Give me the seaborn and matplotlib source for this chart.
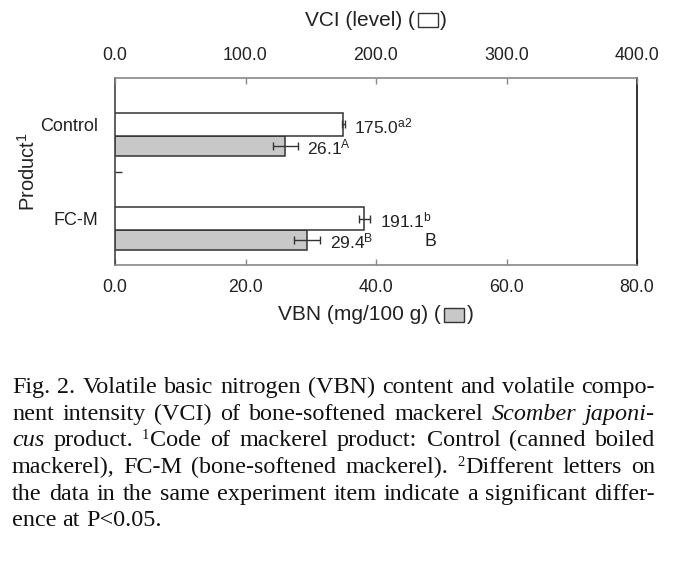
import pandas as pd
import matplotlib
matplotlib.use("Agg")
import matplotlib.pyplot as plt
import seaborn as sns
from matplotlib.font_manager import FontProperties
from matplotlib.offsetbox import TextArea, DrawingArea, HPacker, AnnotationBbox
from matplotlib.patches import Rectangle

# data
products = ["Control", "FC-M"]
vci_mean = [175.0, 191.1]
vci_err = [1.0, 4.2]
vci_letters = ["a2", "b"]
vbn_mean = [26.1, 29.4]
vbn_err = [1.9, 2.0]
vbn_letters = ["A", "B"]
vbn_ticks = [0, 20, 40, 60, 80]
vci_ticks = [0, 100, 200, 300, 400]
stray_letter = "B"      # loose letter printed right of the FC-M bars
stray_letter_x = 48.3   # VBN units

caption_lines = [
    "Fig. 2. Volatile basic nitrogen (VBN) content and volatile compo-",
    "nent intensity (VCI) of bone-softened mackerel Scomber japoni-",
    "cus product. \u00b9Code of mackerel product: Control (canned boiled",
    "mackerel), FC-M (bone-softened mackerel). \u00b2Different letters on",
    "the data in the same experiment item indicate a significant differ-",
    "ence at P<0.05.",
]
italic_words = {"Scomber", "japoni-", "cus"}
sup_chars = {"\u00b9": "1", "\u00b2": "2"}

sns.set_style("white")
plt.rcParams["font.family"] = ["Liberation Sans", "DejaVu Sans"]
plt.rcParams["mathtext.fontset"] = "custom"
plt.rcParams["mathtext.rm"] = "Liberation Sans"
plt.rcParams["mathtext.it"] = "Liberation Sans:italic"

W, H = 676, 570
fig = plt.figure(figsize=(W / 100, H / 100), dpi=100)
ax = fig.add_axes([115 / W, 1 - 265 / H, 522 / W, 187 / H])
ax2 = ax.twiny()

text_c = "#222222"
edge_c = "#333333"
palette = {"VCI": "white", "VBN": "#c8c8c8"}
hue_order = ["VCI", "VBN"]

vbn_df = pd.DataFrame({"product": products, "value": vbn_mean, "measure": "VBN"})
vci_df = pd.DataFrame({"product": products, "value": vci_mean, "measure": "VCI"})

sns.barplot(data=vbn_df, x="value", y="product", hue="measure", hue_order=hue_order,
            palette=palette, width=0.42, dodge=True, errorbar=None,
            edgecolor=edge_c, linewidth=1.1, legend=False, ax=ax)
sns.barplot(data=vci_df, x="value", y="product", hue="measure", hue_order=hue_order,
            palette=palette, width=0.49, dodge=True, errorbar=None,
            edgecolor=edge_c, linewidth=1.1, legend=False, ax=ax2)

ax.set_xlim(0, 80)
ax2.set_xlim(0, 400)
ax.set_ylim(1.372, -0.617)

def bar_centers(a):
    ps = sorted(a.patches, key=lambda p: p.get_y())
    return [p.get_y() + p.get_height() / 2 for p in ps]

vbn_y = bar_centers(ax)
vci_y = bar_centers(ax2)

# error bars and value labels
for a, means, errs, letters, ys in [(ax, vbn_mean, vbn_err, vbn_letters, vbn_y),
                                    (ax2, vci_mean, vci_err, vci_letters, vci_y)]:
    a.errorbar(means, ys, xerr=errs, fmt="none", ecolor=edge_c, elinewidth=1,
               capsize=3, capthick=1)
    for m, e, lab, y in zip(means, errs, letters, ys):
        a.annotate(f"{m:.1f}$^{{\\mathrm{{{lab}}}}}$", xy=(m + e, y), xytext=(7, 0),
                   textcoords="offset points", va="center_baseline", ha="left",
                   fontsize=12.5, color=text_c)

ax.text(stray_letter_x, vbn_y[-1], stray_letter, ha="center", va="center_baseline",
        fontsize=12.8, color=text_c)

# axes, ticks
ax.set_xlabel("")
ax.set_ylabel("")
ax2.set_xlabel("")
ax2.set_ylabel("")
ax.set_xticks(vbn_ticks, labels=[f"{t:.1f}" for t in vbn_ticks])
ax2.set_xticks(vci_ticks, labels=[f"{t:.1f}" for t in vci_ticks])
ax.set_yticks(vci_y, labels=products)
ymid = sum(ax.get_ylim()) / 2
ax.set_yticks([ymid], minor=True)

ax.tick_params(axis="x", bottom=True, top=False)
ax2.tick_params(axis="x", top=True, bottom=False)
for a in (ax, ax2):
    a.tick_params(axis="x", direction="in", length=4, width=1, color="#888888",
                  pad=10, labelsize=12.8, labelcolor=text_c)
ax.tick_params(axis="y", which="major", left=True, length=0, pad=12, labelsize=13,
               labelcolor=text_c)
ax.tick_params(axis="y", which="minor", left=True, direction="in", length=5,
               width=1, color=edge_c)

for s in ["left", "right", "bottom"]:
    ax2.spines[s].set_visible(False)
ax.spines["top"].set_visible(False)
ax2.spines["top"].set_color("#888888")
ax.spines["bottom"].set_color("#888888")
ax.spines["left"].set_color("#444444")
ax.spines["right"].set_color("#111111")
for sp in list(ax.spines.values()) + [ax2.spines["top"]]:
    sp.set_linewidth(1.2)

# axis titles with the little fill swatch
def axis_title(label, fill, y_px):
    tp = dict(fontsize=15, color=text_c)
    swatch = DrawingArea(14.4, 9.4)
    swatch.add_artist(Rectangle((0, 0), 14.4, 9.4, fc=fill, ec=edge_c, lw=1))
    pack = HPacker(children=[TextArea(label + " (", textprops=tp), swatch,
                             TextArea(")", textprops=tp)],
                   align="center", pad=0, sep=2)
    ab = AnnotationBbox(pack, (0.5, 1 - y_px / H),
                        xycoords=("axes fraction", "figure fraction"),
                        box_alignment=(0.5, 0.5), frameon=False)
    ax.add_artist(ab)

axis_title("VCI (level)", palette["VCI"], 20)
axis_title("VBN (mg/100 g)", palette["VBN"], 315)

fig.text(27.5 / W, 1 - 171.5 / H, "Product$^{\\mathrm{1}}$", rotation=90, ha="center",
         va="center", fontsize=14.5, color=text_c)

# justified caption below the chart
renderer = fig.canvas.get_renderer()
cap_left, cap_right = 12, 655
first_base, line_step = 393, 26.7

def piece_w(s, size, italic=False):
    prop = FontProperties(family="Liberation Serif", size=size,
                          style="italic" if italic else "normal")
    return renderer.get_text_width_height_descent(s, prop, ismath=False)[0]

def split_sup(word):
    if word[0] in sup_chars:
        return sup_chars[word[0]], word[1:]
    return "", word

def word_w(word, size):
    sup, body = split_sup(word)
    w = piece_w(body, size, body in italic_words)
    if sup:
        w += piece_w(sup, size * 0.6) + 1
    return w

fs = 17.4
natural = max(sum(word_w(w, fs) for w in ln.split())
              + (piece_w("a a", fs) - piece_w("aa", fs)) * (len(ln.split()) - 1)
              for ln in caption_lines[:-1])
fs = fs * min(1.0, (cap_right - cap_left) / natural)
space = piece_w("a a", fs) - piece_w("aa", fs)
px = 100 / 72

for i, ln in enumerate(caption_lines):
    words = ln.split()
    widths = [word_w(w, fs) for w in words]
    if i < len(caption_lines) - 1 and len(words) > 1:
        gap = (cap_right - cap_left - sum(widths)) / (len(words) - 1)
    else:
        gap = space
    x = cap_left
    y = first_base + i * line_step
    for w, wd in zip(words, widths):
        sup, body = split_sup(w)
        bx = x
        if sup:
            fig.text(x / W, 1 - (y - 0.3 * fs * px) / H, sup, ha="left", va="baseline",
                     family="Liberation Serif", fontsize=fs * 0.6, color="#111111")
            bx += piece_w(sup, fs * 0.6) + 1
        fig.text(bx / W, 1 - y / H, body, ha="left", va="baseline",
                 family="Liberation Serif", fontsize=fs, color="#111111",
                 style="italic" if body in italic_words else "normal")
        x += wd + gap

fig.savefig("out.png", dpi=100)
